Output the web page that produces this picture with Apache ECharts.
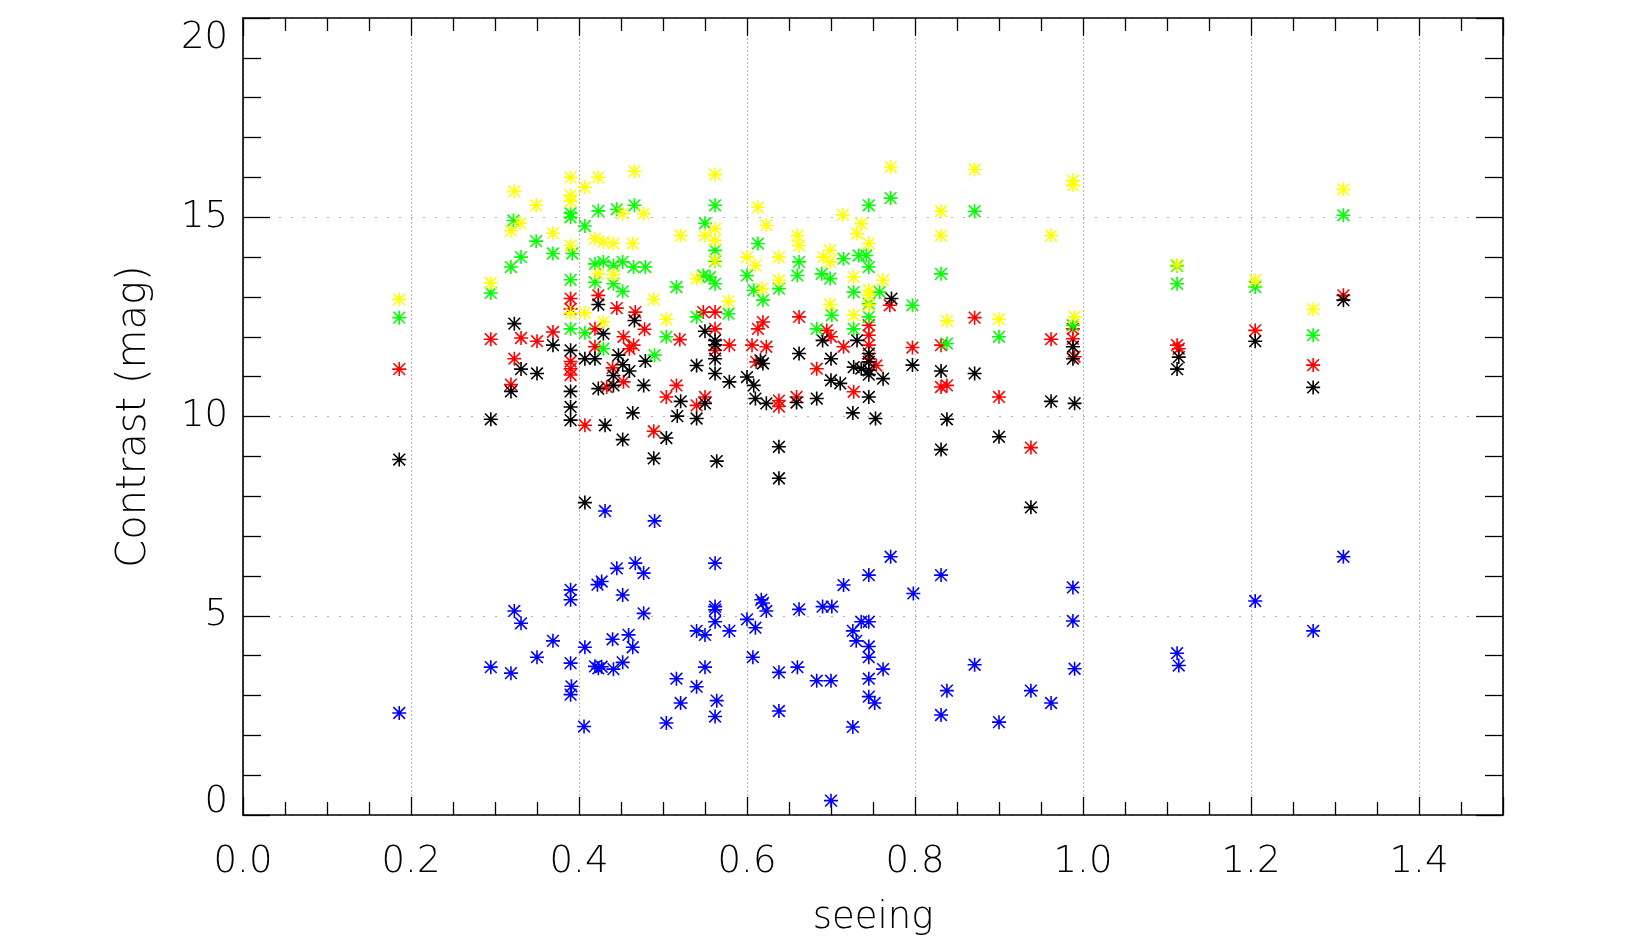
<!DOCTYPE html>
<html>
<head>
<meta charset="utf-8">
<script src="https://cdn.jsdelivr.net/npm/echarts@6/dist/echarts.min.js"></script>
<style>
html,body{margin:0;padding:0;background:#fff;}
#chart{width:1634px;height:942px;}
</style>
</head>
<body>
<div id="chart"></div>
<script>
// seeing (x) vs contrast (y) pairs, per filter series
const blueData = [[0.186,2.56],[0.431,7.63],[0.467,6.32],[0.477,6.07],[0.445,6.19],[0.422,5.78],[0.427,5.86],[0.452,5.52],[0.39,5.65],[0.39,5.40],[0.477,5.06],[0.323,5.12],[0.331,4.81],[0.369,4.37],[0.35,3.96],[0.295,3.71],[0.319,3.56],[0.39,3.81],[0.407,4.21],[0.44,4.41],[0.459,4.52],[0.464,4.21],[0.419,3.73],[0.423,3.68],[0.427,3.72],[0.441,3.66],[0.452,3.83],[0.391,3.23],[0.39,3.02],[0.406,2.22],[0.49,7.38],[0.562,6.32],[0.562,5.23],[0.562,5.15],[0.562,4.85],[0.54,4.62],[0.55,4.52],[0.579,4.62],[0.6,4.91],[0.617,5.40],[0.619,5.32],[0.623,5.12],[0.61,4.70],[0.607,3.96],[0.662,5.16],[0.69,5.23],[0.701,5.23],[0.715,5.77],[0.745,6.02],[0.771,6.48],[0.736,4.85],[0.745,4.85],[0.726,4.62],[0.73,4.37],[0.745,4.23],[0.745,3.96],[0.762,3.66],[0.745,3.42],[0.745,2.97],[0.752,2.81],[0.726,2.21],[0.638,3.58],[0.66,3.71],[0.683,3.37],[0.7,3.37],[0.638,2.61],[0.55,3.71],[0.516,3.42],[0.54,3.22],[0.521,2.81],[0.564,2.87],[0.562,2.47],[0.504,2.31],[0.7,0.36],[0.798,5.56],[0.831,6.02],[0.988,5.71],[0.988,4.87],[0.99,3.67],[1.205,5.37],[1.112,4.06],[1.114,3.75],[0.871,3.77],[0.838,3.12],[0.831,2.51],[0.938,3.12],[0.962,2.81],[0.9,2.33],[1.31,6.48],[1.274,4.62]];

const blackData = [[0.186,8.92],[0.323,12.33],[0.331,11.19],[0.35,11.08],[0.369,11.79],[0.319,10.63],[0.295,9.93],[0.39,11.66],[0.407,11.45],[0.419,11.45],[0.39,10.63],[0.39,10.24],[0.39,9.91],[0.423,12.81],[0.429,12.08],[0.466,12.41],[0.423,10.70],[0.441,11.03],[0.441,10.78],[0.452,11.3],[0.46,11.14],[0.447,11.54],[0.477,10.78],[0.479,11.39],[0.431,9.78],[0.452,9.42],[0.464,10.09],[0.489,8.95],[0.407,7.84],[0.504,9.46],[0.517,10.01],[0.521,10.38],[0.54,11.28],[0.54,9.95],[0.55,12.14],[0.562,11.91],[0.562,11.8],[0.562,11.45],[0.562,11.08],[0.55,10.33],[0.579,10.87],[0.564,8.88],[0.6,10.99],[0.608,10.78],[0.616,11.41],[0.619,11.33],[0.61,10.45],[0.623,10.33],[0.659,10.35],[0.683,10.45],[0.662,11.58],[0.638,9.24],[0.638,8.45],[0.69,11.91],[0.7,11.45],[0.7,10.91],[0.711,10.83],[0.727,11.24],[0.745,11.16],[0.745,11.05],[0.736,11.2],[0.745,11.58],[0.745,11.37],[0.731,11.91],[0.762,10.95],[0.745,10.49],[0.726,10.09],[0.753,9.95],[0.772,12.96],[0.797,11.29],[0.831,11.14],[0.871,11.08],[0.838,9.93],[0.831,9.17],[0.9,9.49],[0.962,10.38],[0.99,10.33],[0.988,11.75],[0.988,11.45],[1.114,11.49],[1.112,11.19],[1.205,11.89],[1.31,12.92],[1.274,10.73],[0.938,7.72]];

const redData = [[0.186,11.19],[0.295,11.94],[0.331,11.97],[0.35,11.89],[0.369,12.12],[0.323,11.45],[0.319,10.8],[0.39,12.96],[0.39,12.7],[0.39,11.38],[0.39,11.2],[0.39,11.04],[0.407,9.78],[0.445,12.72],[0.467,12.62],[0.478,12.19],[0.419,12.2],[0.453,12.0],[0.46,11.7],[0.465,11.79],[0.419,11.75],[0.44,11.22],[0.453,10.87],[0.433,10.74],[0.423,13.04],[0.52,11.93],[0.516,10.78],[0.504,10.49],[0.54,10.28],[0.55,10.49],[0.489,9.63],[0.548,12.62],[0.562,12.62],[0.562,12.2],[0.562,11.66],[0.579,11.79],[0.613,12.2],[0.619,12.37],[0.606,11.79],[0.623,11.75],[0.611,11.37],[0.638,10.4],[0.638,10.25],[0.659,10.49],[0.662,12.5],[0.683,11.2],[0.695,12.16],[0.7,12.0],[0.715,11.75],[0.727,10.62],[0.745,12.29],[0.745,12.04],[0.745,11.79],[0.745,11.45],[0.754,11.28],[0.77,12.79],[0.797,11.73],[0.831,11.79],[0.871,12.48],[0.831,10.74],[0.838,10.78],[0.9,10.49],[0.938,9.22],[0.962,11.94],[0.988,12.2],[0.988,11.95],[0.99,11.5],[1.112,11.79],[1.114,11.7],[1.205,12.16],[1.31,13.04],[1.274,11.29]];

const greenData = [[0.186,12.48],[0.295,13.1],[0.322,14.92],[0.331,14.0],[0.319,13.75],[0.349,14.4],[0.369,14.09],[0.39,15.1],[0.39,15.0],[0.392,14.09],[0.39,13.43],[0.407,14.78],[0.423,15.16],[0.445,15.2],[0.466,15.3],[0.419,13.83],[0.429,13.88],[0.441,13.79],[0.452,13.88],[0.465,13.75],[0.479,13.75],[0.419,13.37],[0.441,13.33],[0.452,13.14],[0.39,12.2],[0.407,12.1],[0.429,11.7],[0.49,11.54],[0.562,15.3],[0.55,14.85],[0.562,14.17],[0.562,13.9],[0.516,13.25],[0.504,12.0],[0.54,12.5],[0.548,13.54],[0.556,13.5],[0.562,13.33],[0.578,12.58],[0.613,14.34],[0.6,13.54],[0.608,13.17],[0.619,12.92],[0.638,13.21],[0.662,13.88],[0.66,13.54],[0.689,13.58],[0.699,13.46],[0.701,12.54],[0.683,12.2],[0.715,13.96],[0.733,14.04],[0.742,14.04],[0.745,13.75],[0.745,15.3],[0.771,15.48],[0.727,13.12],[0.745,12.83],[0.745,12.5],[0.727,12.2],[0.758,13.12],[0.797,12.79],[0.831,13.58],[0.838,11.83],[0.871,15.15],[0.9,12.0],[0.988,12.29],[1.112,13.33],[1.112,13.78],[1.205,13.25],[1.31,15.05],[1.274,12.04]];

const yellowData = [[0.186,12.94],[0.295,13.35],[0.323,15.65],[0.33,14.85],[0.319,14.66],[0.349,15.3],[0.369,14.6],[0.39,16.0],[0.39,15.55],[0.39,15.4],[0.407,15.75],[0.423,16.0],[0.452,15.09],[0.466,16.15],[0.477,15.09],[0.39,14.29],[0.419,14.46],[0.429,14.38],[0.441,14.34],[0.464,14.34],[0.423,13.58],[0.441,13.56],[0.39,12.6],[0.407,12.6],[0.429,12.37],[0.489,12.94],[0.562,16.07],[0.504,12.44],[0.521,14.54],[0.55,14.54],[0.562,14.71],[0.562,14.42],[0.562,13.92],[0.54,13.46],[0.578,12.89],[0.6,14.0],[0.61,13.79],[0.613,15.25],[0.623,14.8],[0.618,13.21],[0.638,14.0],[0.638,13.42],[0.66,14.54],[0.662,14.29],[0.699,14.17],[0.691,14.0],[0.699,13.88],[0.699,12.81],[0.714,15.06],[0.736,14.84],[0.731,14.59],[0.745,14.34],[0.727,13.5],[0.745,13.17],[0.745,13.04],[0.762,13.42],[0.727,12.54],[0.745,12.79],[0.771,16.26],[0.871,16.2],[0.831,15.15],[0.831,14.54],[0.838,12.4],[0.9,12.44],[0.962,14.54],[0.988,15.92],[0.988,15.8],[0.99,12.5],[1.112,13.81],[1.205,13.42],[1.31,15.7],[1.274,12.69]];

const xTitle = 'seeing';
const yTitle = 'Contrast (mag)';

const FONT = '"DejaVu Sans", "Liberation Sans", sans-serif';
const FW = 200;
const STAR = 'path://M0 6.2H14V7.8H0Z M6.2 0H7.8V14H6.2Z M0.6 1.7L1.7 0.6L13.4 12.3L12.3 13.4Z M12.3 0.6L13.4 1.7L1.7 13.4L0.6 12.3Z';

function mkSeries(data, color) {
  return {
    type: 'scatter', data: data, symbol: STAR, symbolSize: 14,
    itemStyle: { color: color, opacity: 1 },
    emphasis: { disabled: true }, silent: true, animation: false
  };
}

const chart = echarts.init(document.getElementById('chart'), null, { renderer: 'canvas' });
const tickLine = { color: '#000', width: 1.3 };
const xCommon = { type: 'value', min: 0, max: 1.5, interval: 0.2, gridIndex: 0 };
const yCommon = { type: 'value', min: 0, max: 20, interval: 5, gridIndex: 0 };
const txt = { fontFamily: FONT, fontWeight: FW, fontSize: 37, color: '#000' };

chart.setOption({
  backgroundColor: '#fff',
  animation: false,
  grid: { left: 243, right: 131, top: 18, bottom: 125, containLabel: false },
  xAxis: [
    Object.assign({}, xCommon, {
      position: 'bottom',
      name: xTitle, nameLocation: 'middle', nameGap: 85,
      nameTextStyle: txt,
      axisLine: { show: true, onZero: false, lineStyle: { color: '#000', width: 1.6 } },
      axisTick: { show: true, inside: true, length: 18, lineStyle: tickLine },
      minorTick: { show: true, splitNumber: 4, length: 13, lineStyle: tickLine },
      axisLabel: Object.assign({ show: true, margin: 29, showMaxLabel: false,
        formatter: v => v.toFixed(1) }, txt),
      splitLine: { show: true, lineStyle: { color: '#b4b4b4', width: 1, type: [2, 2] } }
    }),
    Object.assign({}, xCommon, {
      position: 'top',
      axisLine: { show: true, onZero: false, lineStyle: { color: '#000', width: 1.6 } },
      axisTick: { show: true, inside: true, length: 18, lineStyle: tickLine },
      minorTick: { show: true, splitNumber: 4, length: 13, lineStyle: tickLine },
      axisLabel: { show: false },
      splitLine: { show: false }
    })
  ],
  yAxis: [
    Object.assign({}, yCommon, {
      position: 'left',
      name: yTitle, nameLocation: 'middle', nameGap: 88,
      nameTextStyle: Object.assign({}, txt, { fontSize: 40 }),
      axisLine: { show: true, onZero: false, lineStyle: { color: '#000', width: 1.6 } },
      axisTick: { show: true, inside: true, length: 27, lineStyle: tickLine },
      minorTick: { show: true, splitNumber: 5, length: 18, lineStyle: tickLine },
      axisLabel: Object.assign({ show: true, margin: 15,
        formatter: v => v === 20 ? '{hi|20}' : (v === 0 ? '{lo|0}' : String(v)),
        rich: {
          hi: Object.assign({ padding: [40, 0, 0, 0] }, txt),
          lo: Object.assign({ padding: [0, 0, 26, 0] }, txt)
        } }, txt),
      splitLine: { show: true, lineStyle: { color: '#b4b4b4', width: 1, type: [2, 10] } }
    }),
    Object.assign({}, yCommon, {
      position: 'right',
      axisLine: { show: true, onZero: false, lineStyle: { color: '#000', width: 1.6 } },
      axisTick: { show: true, inside: true, length: 27, lineStyle: tickLine },
      minorTick: { show: true, splitNumber: 5, length: 18, lineStyle: tickLine },
      axisLabel: { show: false },
      splitLine: { show: false }
    })
  ],
  series: [
    mkSeries(blueData, '#0000ff'),
    mkSeries(redData, '#ff0000'),
    mkSeries(blackData, '#000000'),
    mkSeries(greenData, '#00ff00'),
    mkSeries(yellowData, '#ffff00')
  ]
});
</script>
</body>
</html>
